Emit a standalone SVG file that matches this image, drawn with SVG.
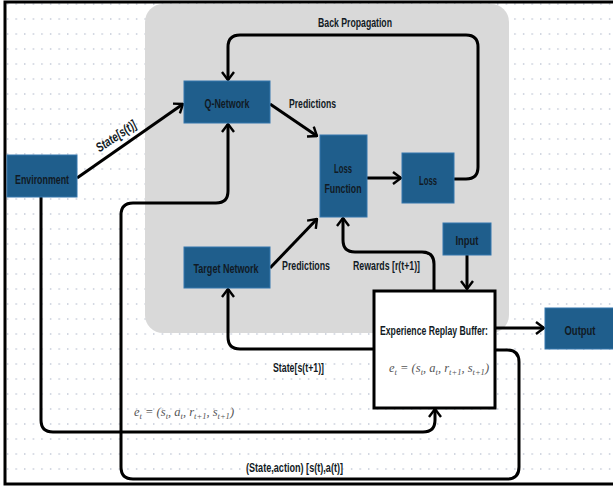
<svg xmlns="http://www.w3.org/2000/svg" width="613" height="486" viewBox="0 0 613 486">
<defs>
<pattern id="dots" x="4" y="18" width="8.6" height="15" patternUnits="userSpaceOnUse">
<rect x="3" y="0" width="1.2" height="2" fill="#c9cedb"/>
</pattern>
<marker id="arr" viewBox="0 0 10 14" refX="9" refY="7" markerWidth="10" markerHeight="14" markerUnits="userSpaceOnUse" orient="auto">
<path d="M1,1 L9,7 L1,13" fill="none" stroke="#000" stroke-width="2.4" stroke-linejoin="miter"/>
</marker>
<style>
.box{fill:#1f5e8c;stroke:#3577ad;stroke-width:1}
.t{font-family:"Liberation Sans Narrow","Liberation Sans",Arial,sans-serif;font-weight:bold;font-size:13px;fill:#111a24}
.c{text-anchor:middle}
.ln{fill:none;stroke:#000;stroke-width:3;stroke-linejoin:round}
.math{font-family:"Liberation Serif","DejaVu Serif",serif;font-style:italic;font-size:12.5px;fill:#555}
</style>
</defs>
<rect x="0" y="0" width="613" height="486" fill="#fff"/>
<rect x="0" y="0" width="613" height="486" fill="url(#dots)"/>
<rect x="145" y="4" width="364" height="329" rx="18" fill="#d9d9d9"/>
<rect x="5" y="2" width="620" height="482" fill="none" stroke="#000" stroke-width="3"/>

<g id="connectors">
<path class="ln" d="M77,178 L183,104" marker-end="url(#arr)"/>
<path class="ln" d="M270,104 L317,136" marker-end="url(#arr)"/>
<path class="ln" d="M270,268 L317,219" marker-end="url(#arr)"/>
<path class="ln" d="M367,178 L401,178" marker-end="url(#arr)"/>
<path class="ln" d="M454,179 H466 Q478,179 478,167 V47 Q478,35 466,35 H240 Q228,35 228,47 V80" marker-end="url(#arr)"/>
<path class="ln" d="M434,291 V264 Q434,252 422,252 H355 Q343,252 343,240 V218" marker-end="url(#arr)"/>
<path class="ln" d="M467,255 V289" marker-end="url(#arr)"/>
<path class="ln" d="M495,328 H544" marker-end="url(#arr)"/>
<path class="ln" d="M374,349 H240 Q228,349 228,337 V289" marker-end="url(#arr)"/>
<path class="ln" d="M495,350 H507 Q519,350 519,362 V467 Q519,479 507,479 H133 Q121,479 121,467 V215 Q121,203 133,203 H216 Q228,203 228,191 V124" marker-end="url(#arr)"/>
<path class="ln" d="M41,197 V420 Q41,432 53,432 H423 Q435,432 435,420 V409" marker-end="url(#arr)"/>
<text class="t c" x="355" y="27" textLength="74" lengthAdjust="spacingAndGlyphs">Back Propagation</text>
<text class="t" x="289" y="108" textLength="47" lengthAdjust="spacingAndGlyphs">Predictions</text>
<text class="t" x="282" y="270" textLength="48" lengthAdjust="spacingAndGlyphs">Predictions</text>
<text class="t" x="353" y="270" textLength="67" lengthAdjust="spacingAndGlyphs">Rewards [r(t+1)]</text>
<text class="t" x="273" y="372" textLength="51" lengthAdjust="spacingAndGlyphs">State[s(t+1)]</text>
<text class="t" x="246" y="472" textLength="97" lengthAdjust="spacingAndGlyphs">(State,action) [s(t),a(t)]</text>
<text class="t c" transform="translate(116,136) rotate(-34)" x="0" y="4.5" font-style="italic" textLength="46" lengthAdjust="spacingAndGlyphs">State[s(t)]</text>
<text class="math" x="134" y="416">e<tspan font-size="8.5" dy="3">t</tspan><tspan dy="-3"> = (s</tspan><tspan font-size="8.5" dy="3">t</tspan><tspan dy="-3">, a</tspan><tspan font-size="8.5" dy="3">t</tspan><tspan dy="-3">, r</tspan><tspan font-size="8.5" dy="3">t+1</tspan><tspan dy="-3">, s</tspan><tspan font-size="8.5" dy="3">t+1</tspan><tspan dy="-3">)</tspan></text>
</g>

<g id="q-network">
<rect class="box" x="184" y="81" width="86" height="42"/>
<text class="t c" x="227" y="108" textLength="45" lengthAdjust="spacingAndGlyphs">Q-Network</text>
</g>
<g id="loss-function">
<rect class="box" x="320" y="135" width="47" height="82"/>
<text class="t c" x="343" y="173" textLength="18" lengthAdjust="spacingAndGlyphs">Loss</text>
<text class="t c" x="343" y="193" textLength="37" lengthAdjust="spacingAndGlyphs">Function</text>
</g>
<g id="loss">
<rect class="box" x="402" y="153" width="52" height="50"/>
<text class="t c" x="428" y="185" textLength="18" lengthAdjust="spacingAndGlyphs">Loss</text>
</g>
<g id="environment">
<rect class="box" x="7" y="155" width="70" height="42"/>
<text class="t c" x="42" y="184" textLength="54" lengthAdjust="spacingAndGlyphs">Environment</text>
</g>
<g id="target-network">
<rect class="box" x="184" y="247" width="86" height="41"/>
<text class="t c" x="226" y="273" textLength="65" lengthAdjust="spacingAndGlyphs">Target Network</text>
</g>
<g id="input">
<rect class="box" x="443" y="223" width="48" height="32"/>
<text class="t c" x="467" y="245" textLength="23" lengthAdjust="spacingAndGlyphs">Input</text>
</g>
<g id="output">
<rect class="box" x="545" y="308" width="70" height="41"/>
<text class="t c" x="580" y="335" textLength="31" lengthAdjust="spacingAndGlyphs">Output</text>
</g>
<g id="experience-replay-buffer">
<rect x="374" y="291" width="121" height="117" fill="#fff" stroke="#000" stroke-width="3"/>
<text class="t c" x="434" y="335" textLength="108" lengthAdjust="spacingAndGlyphs">Experience Replay Buffer:</text>
<text class="math" x="389" y="372">e<tspan font-size="8.5" dy="3">t</tspan><tspan dy="-3"> = (s</tspan><tspan font-size="8.5" dy="3">t</tspan><tspan dy="-3">, a</tspan><tspan font-size="8.5" dy="3">t</tspan><tspan dy="-3">, r</tspan><tspan font-size="8.5" dy="3">t+1</tspan><tspan dy="-3">, s</tspan><tspan font-size="8.5" dy="3">t+1</tspan><tspan dy="-3">)</tspan></text>
</g>
</svg>
